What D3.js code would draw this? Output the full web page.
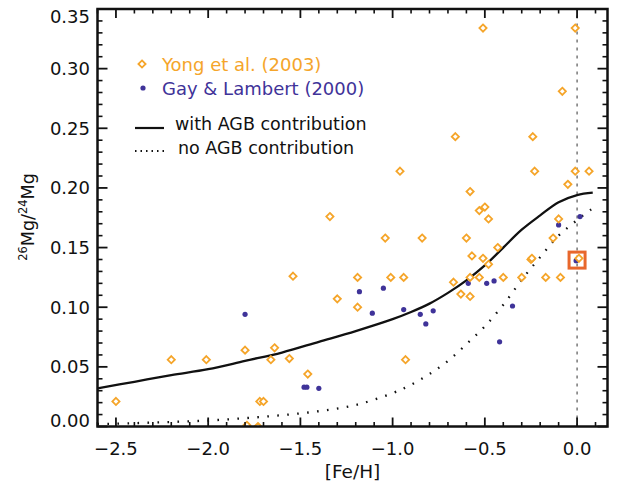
<!DOCTYPE html>
<html><head><meta charset="utf-8">
<script src="https://cdn.jsdelivr.net/npm/d3@7"></script>
<style>body{margin:0;background:#fff}svg{display:block}text{font-family:"DejaVu Sans",sans-serif}</style>
</head><body>
<svg id="c" width="617" height="484"></svg>
<script>
// ---- data ----
const yongFe = [-2.50,-2.20,-2.01,-1.80,-1.79,-1.73,-1.72,-1.70,-1.66,-1.64,-1.56,-1.54,-1.46,-1.34,-1.30,-1.19,-1.19,-1.04,-1.01,-0.96,-0.94,-0.93,-0.84,-0.67,-0.66,-0.63,-0.60,-0.58,-0.58,-0.58,-0.57,-0.53,-0.53,-0.51,-0.51,-0.50,-0.48,-0.48,-0.43,-0.40,-0.30,-0.25,-0.245,-0.24,-0.23,-0.17,-0.13,-0.10,-0.09,-0.08,-0.05,-0.01,-0.01,0.01,0.065];
const yongMg = [0.021,0.056,0.056,0.064,0.001,0.000,0.021,0.021,0.056,0.066,0.057,0.126,0.044,0.176,0.107,0.125,0.100,0.158,0.125,0.214,0.125,0.056,0.158,0.121,0.243,0.111,0.158,0.197,0.125,0.109,0.143,0.181,0.125,0.334,0.141,0.184,0.174,0.136,0.150,0.125,0.125,0.140,0.141,0.243,0.214,0.125,0.158,0.174,0.125,0.281,0.203,0.334,0.214,0.141,0.214];
const gayFe = [-1.80,-1.48,-1.465,-1.40,-1.18,-1.11,-1.05,-0.94,-0.85,-0.82,-0.78,-0.59,-0.49,-0.45,-0.42,-0.35,-0.10,-0.005,0.016];
const gayMg = [0.094,0.033,0.033,0.032,0.113,0.095,0.116,0.098,0.094,0.086,0.097,0.120,0.120,0.122,0.071,0.101,0.169,0.139,0.176];
const modelFe = [-2.6,-2.4,-2.2,-2.0,-1.8,-1.6,-1.4,-1.2,-1.0,-0.9,-0.8,-0.7,-0.6,-0.5,-0.4,-0.3,-0.2,-0.1,0.0,0.085];
const withAGB = [0.032,0.0375,0.043,0.048,0.055,0.062,0.071,0.080,0.090,0.096,0.103,0.112,0.1225,0.135,0.150,0.165,0.177,0.188,0.194,0.196];
const noAGB   = [0.002,0.0028,0.0038,0.005,0.007,0.0095,0.0128,0.018,0.028,0.035,0.044,0.055,0.069,0.084,0.102,0.123,0.142,0.160,0.173,0.183];
const sunPoint = [0.0, 0.1395];
const xTickVals = [-2.5,-2.0,-1.5,-1.0,-0.5,0.0];
const xTickLabels = ["\u22122.5","\u22122.0","\u22121.5","\u22121.0","\u22120.5","0.0"];
const yTickVals = [0,0.05,0.10,0.15,0.20,0.25,0.30,0.35];
const yTickLabels = ["0.00","0.05","0.10","0.15","0.20","0.25","0.30","0.35"];
const legendLabels = ["Yong et al. (2003)","Gay & Lambert (2000)","with AGB contribution","no AGB contribution"];

// ---- layout ----
const ORANGE="#F5A52A", BLUE="#3F3399", RED="#E8672C";
const L=97.5,R=607.5,T=9,B=426.5;
const svg=d3.select("#c");
const x=d3.scaleLinear().domain([-2.6,0.165]).range([L,R]);
const y=d3.scaleLinear().domain([0,0.35]).range([B,T]);

svg.append("clipPath").attr("id","clip").append("rect").attr("x",L).attr("y",T).attr("width",R-L).attr("height",B-T);
const g=svg.append("g").attr("clip-path","url(#clip)");

// vertical dotted line at 0
g.append("line").attr("x1",x(0)).attr("x2",x(0)).attr("y1",B).attr("y2",T)
 .attr("stroke","#333").attr("stroke-width",1).attr("stroke-dasharray","3,5");

const line=d3.line().curve(d3.curveCatmullRom.alpha(0.5)).x(d=>x(d[0])).y(d=>y(d[1]));
g.append("path").datum(modelFe.map((f,i)=>[f,withAGB[i]])).attr("d",line)
 .attr("fill","none").attr("stroke","#111").attr("stroke-width",2.3);
g.append("path").datum(modelFe.map((f,i)=>[f,noAGB[i]])).attr("d",line)
 .attr("fill","none").attr("stroke","#111").attr("stroke-width",2.3).attr("stroke-dasharray","1.6,8.4");

const diamondPath=(s)=>`M0,${-s}L${s},0L0,${s}L${-s},0Z`;

// square highlight
g.append("rect").attr("x",x(sunPoint[0])-8).attr("y",y(sunPoint[1])-8).attr("width",16).attr("height",16)
 .attr("fill","none").attr("stroke",RED).attr("stroke-width",3);

g.selectAll(".gay").data(gayFe.map((f,i)=>[f,gayMg[i]])).enter().append("circle")
 .attr("cx",d=>x(d[0])).attr("cy",d=>y(d[1])).attr("r",2.6).attr("fill",BLUE);

g.selectAll(".yong").data(yongFe.map((f,i)=>[f,yongMg[i]])).enter().append("path")
 .attr("transform",d=>`translate(${x(d[0])},${y(d[1])})`).attr("d",diamondPath(3.6))
 .attr("fill","#fff").attr("stroke",ORANGE).attr("stroke-width",1.8);

// ---- axes ----
const ax=svg.append("g");
const minorX=d3.range(-26,2).map(v=>v/10).filter(v=>!xTickVals.some(t=>Math.abs(t-v)<1e-6));
const minorY=d3.range(0,36).map(v=>v/100).filter(v=>!yTickVals.some(t=>Math.abs(t-v)<1e-6) && v<0.35);
function tk(x1,y1,x2,y2,w){ax.append("line").attr("x1",x1).attr("y1",y1).attr("x2",x2).attr("y2",y2).attr("stroke","#111").attr("stroke-width",w);}
xTickVals.forEach(v=>{tk(x(v),B,x(v),B-9,1.8);tk(x(v),T,x(v),T+9,1.8);});
minorX.forEach(v=>{tk(x(v),B,x(v),B-4.5,1.6);tk(x(v),T,x(v),T+4.5,1.6);});
yTickVals.forEach(v=>{tk(L,y(v),L+10,y(v),1.8);tk(R,y(v),R-10,y(v),1.8);});
minorY.forEach(v=>{tk(L,y(v),L+5,y(v),1.6);tk(R,y(v),R-5,y(v),1.6);});
ax.append("rect").attr("x",L).attr("y",T).attr("width",R-L).attr("height",B-T)
 .attr("fill","none").attr("stroke","#111").attr("stroke-width",2.5);

xTickVals.forEach((v,i)=>{
  ax.append("text").attr("x",x(v)).attr("y",454.5).attr("text-anchor","middle")
   .attr("font-size",18).attr("fill","#111").text(xTickLabels[i]);
});
yTickVals.forEach((v,i)=>{
  let yy=y(v); if(i===0) yy-=6; if(i===yTickVals.length-1) yy+=8;
  ax.append("text").attr("x",90).attr("y",yy).attr("dy","0.36em").attr("text-anchor","end")
   .attr("font-size",18).attr("fill","#111").text(yTickLabels[i]);
});

// axis titles
ax.append("text").attr("x",(L+R)/2).attr("y",478).attr("text-anchor","middle")
 .attr("font-size",18.5).attr("fill","#111").text("[Fe/H]");
const yt=ax.append("text").attr("transform","translate(34,217) rotate(-90)").attr("text-anchor","middle")
 .attr("font-size",17.5).attr("fill","#111");
yt.append("tspan").attr("font-size",11.5).attr("dy",-7).text("26");
yt.append("tspan").attr("dy",7).text("Mg/");
yt.append("tspan").attr("font-size",11.5).attr("dy",-7).text("24");
yt.append("tspan").attr("dy",7).text("Mg");

// legend
const lg=svg.append("g");
lg.append("path").attr("transform","translate(142,64)").attr("d",diamondPath(3.6))
 .attr("fill","#fff").attr("stroke",ORANGE).attr("stroke-width",1.8);
lg.append("text").attr("x",162).attr("y",70.5).attr("font-size",18).attr("fill",ORANGE).text(legendLabels[0]);
lg.append("circle").attr("cx",143).attr("cy",88).attr("r",2.6).attr("fill",BLUE);
lg.append("text").attr("x",162).attr("y",94.5).attr("font-size",18).attr("fill",BLUE).text(legendLabels[1]);
lg.append("line").attr("x1",135).attr("x2",164).attr("y1",128).attr("y2",128).attr("stroke","#111").attr("stroke-width",2.2);
lg.append("text").attr("x",175).attr("y",129.5).attr("font-size",17.5).attr("fill","#111").text(legendLabels[2]);
lg.append("line").attr("x1",135).attr("x2",168).attr("y1",151).attr("y2",151).attr("stroke","#111").attr("stroke-width",2.2).attr("stroke-dasharray","1.5,4");
lg.append("text").attr("x",178).attr("y",153.5).attr("font-size",17.5).attr("fill","#111").text(legendLabels[3]);
</script>
</body></html>
